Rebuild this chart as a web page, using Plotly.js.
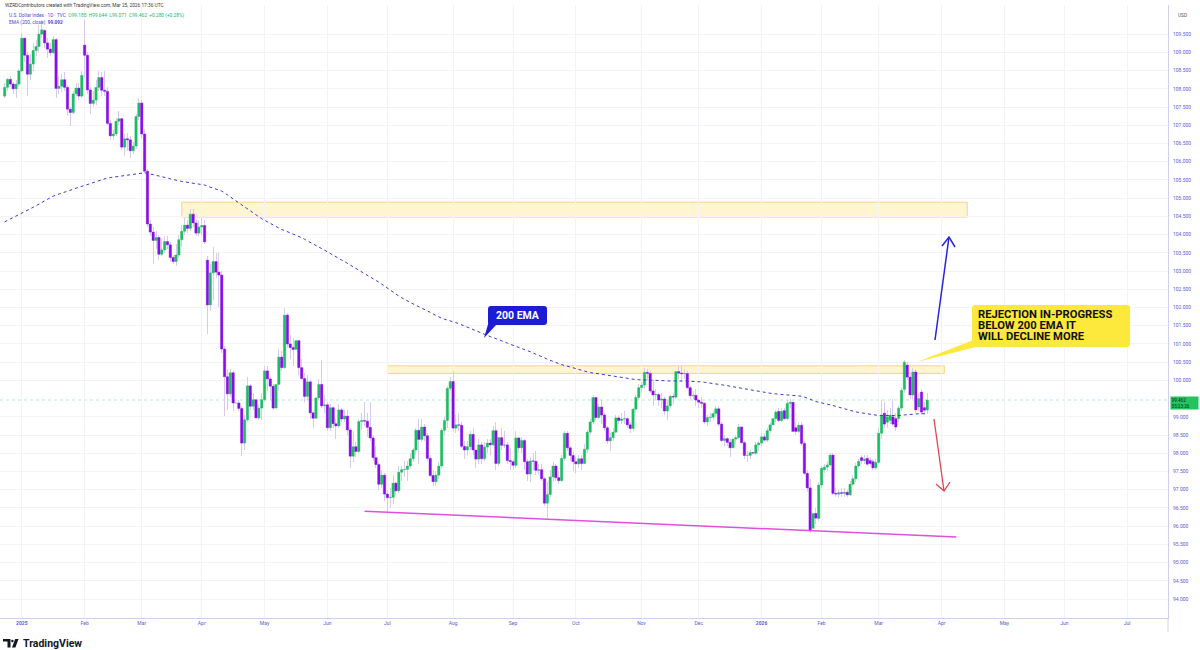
<!DOCTYPE html>
<html>
<head>
<meta charset="utf-8">
<script src="https://cdn.plot.ly/plotly-3.0.1.min.js"></script>
<style>
  html, body { margin: 0; padding: 0; background: #ffffff; }
  #chart { width: 1200px; height: 650px; }
</style>
</head>
<body>
<div id="chart"></div>
<script>
// U.S. Dollar Index, daily sessions (weekdays, market holidays skipped)
const firstSession = '2024-12-23';
const holidays = ['2024-12-25', '2025-01-01', '2025-12-25', '2026-01-01'];

const open = [
  107.80,108.04,108.26,108.13,108.00,108.13,
  108.49,109.39,108.92,108.40,108.68,109.05,109.16,109.50,109.60,109.26,109.09,108.99,109.35,108.01,108.07,108.25,108.04,107.44,107.35,107.86,108.02,107.80,
  109.20,108.92,107.97,107.60,107.69,108.04,108.31,107.96,107.93,107.05,106.71,106.76,107.11,107.18,106.40,106.63,106.60,106.30,106.43,107.24,
  107.61,106.76,105.74,104.29,104.07,103.84,103.92,103.46,103.58,103.81,103.72,103.37,103.26,103.44,103.86,104.09,104.26,104.17,104.56,104.32,104.04,
  104.21,104.25,103.30,102.07,102.95,103.26,102.97,102.89,100.86,100.10,99.63,100.21,99.38,99.38,99.23,98.28,98.92,99.85,99.29,99.47,98.97,99.24,
  99.47,100.26,100.04,99.84,99.24,99.89,100.64,100.35,101.79,101.00,100.90,100.85,101.09,100.35,100.05,99.56,99.96,99.11,98.96,99.52,99.89,99.30,
  99.33,98.70,99.25,98.81,98.75,99.19,98.94,99.02,98.64,97.92,98.18,98.05,98.87,98.90,98.88,98.71,98.42,97.88,97.69,97.15,97.40,
  96.88,96.78,96.79,97.18,96.97,97.48,97.55,97.56,97.65,97.85,98.09,98.63,98.38,98.72,98.48,97.86,97.39,97.22,97.40,97.65,98.63,98.90,99.78,
  99.97,98.69,98.78,98.77,98.19,98.09,98.18,98.52,98.09,97.84,98.23,97.85,98.17,98.28,98.23,98.62,97.72,98.43,98.22,98.23,97.80,
  97.77,97.67,98.42,98.15,98.35,97.77,97.43,97.79,97.78,97.53,97.55,97.30,96.63,96.87,97.35,97.65,97.33,97.25,97.86,98.55,98.15,97.94,
  97.77,97.71,97.85,97.72,98.11,98.58,98.86,99.53,98.98,99.27,99.05,98.70,98.34,98.43,98.58,98.97,98.90,98.94,98.95,98.78,98.68,99.21,99.53,
  99.80,99.87,100.22,100.19,99.71,99.60,99.61,99.46,99.49,99.16,99.30,99.56,99.54,100.24,100.20,100.18,100.19,99.80,99.58,99.59,
  99.46,99.40,99.37,98.86,98.98,98.99,99.09,99.22,98.80,98.35,98.40,98.30,98.15,98.39,98.43,98.72,98.29,97.94,97.94,98.02,98.00,98.23,
  98.28,98.45,98.36,98.62,98.78,98.95,99.15,98.90,99.17,98.95,99.37,99.40,98.70,98.60,98.77,98.27,97.45,97.05,95.94,96.35,96.21,
  97.13,97.55,97.62,97.68,97.95,96.90,96.88,96.92,96.90,96.93,96.86,97.15,97.30,97.65,97.88,97.80,97.86,97.80,97.77,97.60,
  97.75,98.55,99.10,98.85,98.90,99.00,98.95,98.95,99.24,99.75,100.42,100.09,99.60,100.23,99.27,99.68,99.25,99.185
];
const high = [
  108.15,108.30,108.35,108.20,108.25,108.55,
  109.54,109.40,109.00,108.95,109.25,109.35,109.75,109.90,109.65,109.40,109.25,109.45,109.40,108.35,108.40,108.45,108.10,107.50,107.95,108.15,108.15,108.50,
  109.88,109.00,108.05,107.95,108.25,108.50,108.45,108.50,108.05,107.15,106.90,107.20,107.40,107.20,106.75,106.80,106.70,106.55,107.30,107.75,
  107.70,106.90,105.80,104.40,104.20,104.10,104.00,103.90,103.95,103.95,103.80,103.45,103.75,104.00,104.25,104.45,104.40,104.70,104.70,104.40,104.40,
  104.45,104.40,103.40,103.20,103.65,103.50,103.50,103.00,100.95,100.30,100.30,100.25,99.70,99.45,99.30,99.05,100.10,99.90,99.65,99.55,99.35,99.65,
  100.40,100.40,100.10,99.90,100.05,100.85,100.80,101.98,101.85,101.25,101.15,101.20,101.10,100.60,100.20,100.15,100.00,99.15,99.65,100.05,100.55,99.60,
  99.40,99.35,99.30,98.95,99.35,99.25,99.20,99.20,98.70,98.60,98.30,98.95,99.10,99.40,99.10,99.40,98.50,98.20,97.75,97.55,97.45,
  97.00,97.05,97.40,97.20,97.65,97.65,97.80,97.80,98.00,98.15,98.70,98.95,98.95,98.80,98.55,97.95,97.55,97.50,97.75,98.70,99.00,99.85,100.10,
  100.25,99.05,99.10,98.85,98.35,98.35,98.60,98.70,98.10,98.40,98.30,98.30,98.40,98.40,98.75,98.85,98.45,98.70,98.60,98.30,98.15,
  97.85,98.60,98.45,98.45,98.40,97.85,97.90,98.00,98.05,97.70,97.70,97.35,97.20,97.55,97.75,97.70,97.50,97.95,98.60,98.60,98.20,98.05,
  97.90,97.95,97.95,98.25,98.65,98.95,99.60,99.55,99.35,99.45,99.10,98.75,98.55,98.70,99.05,99.05,99.10,99.15,99.00,98.85,99.25,99.60,99.90,
  99.95,100.35,100.30,100.25,100.00,99.75,99.65,99.65,99.55,99.45,99.60,99.65,100.25,100.40,100.40,100.30,100.25,99.85,99.70,99.75,
  99.50,99.55,99.40,99.05,99.10,99.15,99.30,99.30,98.85,98.50,98.45,98.40,98.50,98.50,98.80,98.75,98.35,98.05,98.10,98.15,98.30,98.35,
  98.55,98.55,98.70,98.85,99.05,99.20,99.25,99.25,99.25,99.45,99.50,99.45,98.85,98.85,98.85,98.35,97.55,97.30,96.45,96.50,97.20,
  97.65,97.70,97.80,98.00,98.00,97.05,97.00,97.05,97.05,97.00,97.25,97.40,97.72,97.85,97.95,97.95,97.95,97.90,97.85,97.85,
  98.70,99.45,99.40,99.20,99.25,99.50,99.10,99.30,99.80,100.55,100.50,100.20,100.35,100.30,99.65,99.75,99.40,99.644
];
const low = [
  107.75,107.95,108.05,107.85,107.75,108.05,
  108.45,108.73,107.80,108.25,108.50,108.90,109.00,109.40,109.12,108.85,108.90,108.95,107.75,107.85,107.90,107.95,107.25,106.97,107.30,107.80,107.70,107.75,
  108.30,107.85,107.30,107.50,107.55,107.95,107.80,107.80,107.00,106.60,106.60,106.70,107.00,106.33,106.15,106.30,106.10,106.20,106.35,107.15,
  106.65,105.70,104.20,103.95,103.20,103.60,103.30,103.40,103.50,103.60,103.25,103.20,103.15,103.35,103.65,104.00,104.05,104.10,104.20,103.95,103.95,
  104.00,103.75,101.26,101.90,102.20,102.80,102.00,100.75,99.01,99.20,99.55,99.15,99.25,99.15,97.92,98.10,98.85,99.20,99.20,98.80,98.90,98.90,
  99.40,99.70,99.45,99.20,99.20,99.70,100.25,100.30,100.90,100.60,100.40,100.70,100.15,100.00,99.40,99.45,98.95,98.70,98.85,99.45,99.25,99.10,
  98.60,98.60,98.70,98.40,98.70,98.85,98.85,98.50,97.60,97.75,97.90,98.00,98.65,98.75,98.45,98.35,97.80,97.60,97.00,97.05,96.70,
  96.37,96.50,96.60,96.85,96.90,97.25,97.35,97.25,97.60,97.75,97.95,97.70,98.30,98.35,97.80,97.35,97.10,97.10,97.30,97.60,98.50,98.70,99.70,
  98.60,98.55,98.60,98.15,97.85,97.95,98.10,97.95,97.60,97.70,97.70,97.80,98.00,97.95,98.20,97.55,97.65,98.10,98.15,97.70,97.55,
  97.55,97.60,98.00,98.00,97.55,97.25,97.20,97.55,97.40,97.40,97.25,96.55,96.22,96.80,97.20,97.25,97.15,97.20,97.80,98.05,97.80,97.50,
  97.45,97.60,97.55,97.70,98.00,98.50,98.80,98.90,98.95,98.80,98.60,98.25,98.05,98.35,98.55,98.80,98.80,98.80,98.70,98.55,98.60,99.10,99.45,
  99.65,99.75,100.00,99.65,99.30,99.45,99.30,99.25,99.05,98.90,99.25,99.35,99.50,100.05,99.95,100.05,99.75,99.50,99.50,99.30,
  99.25,99.25,98.80,98.75,98.85,98.90,99.00,98.75,98.30,98.20,98.20,97.90,98.10,98.25,98.40,98.25,97.85,97.75,97.85,97.90,97.95,98.05,
  98.20,98.30,98.30,98.55,98.70,98.85,98.85,98.85,98.90,98.90,99.25,98.55,98.50,98.55,98.20,97.40,96.95,95.80,95.85,96.05,96.15,
  97.05,97.45,97.50,97.65,96.85,96.80,96.78,96.80,96.80,96.80,96.82,97.10,97.20,97.60,97.70,97.70,97.65,97.65,97.55,97.55,
  97.70,98.40,98.70,98.70,98.80,98.75,98.60,98.85,99.15,99.65,100.00,99.50,99.50,99.10,99.15,99.05,99.05,99.071
];
const close = [
  108.04,108.26,108.13,108.00,108.13,108.49,
  109.39,108.92,108.40,108.68,109.05,109.16,109.50,109.62,109.26,109.09,108.99,109.35,108.01,108.07,108.25,108.04,107.44,107.35,107.86,108.02,107.80,108.37,
  108.92,107.97,107.60,107.69,108.04,108.31,107.96,107.93,107.05,106.71,106.76,107.11,107.18,106.40,106.63,106.60,106.30,106.43,107.24,107.61,
  106.76,105.74,104.29,104.07,103.84,103.92,103.46,103.58,103.81,103.72,103.37,103.26,103.44,103.86,104.09,104.26,104.17,104.56,104.32,104.04,104.21,
  104.25,103.80,102.07,102.95,103.26,102.97,102.89,100.86,100.10,99.63,100.21,99.38,99.38,99.23,98.28,98.92,99.85,99.29,99.47,98.97,99.24,99.47,
  100.26,100.04,99.84,99.24,99.89,100.64,100.35,101.79,101.00,100.90,100.85,101.09,100.35,100.05,99.56,99.96,99.11,98.96,99.52,99.89,99.30,99.33,
  98.70,99.25,98.81,98.75,99.19,98.94,99.02,98.64,97.92,98.18,98.05,98.87,98.90,98.88,98.71,98.42,97.88,97.69,97.15,97.40,96.88,
  96.78,96.79,97.18,96.97,97.48,97.55,97.56,97.65,97.85,98.09,98.63,98.38,98.72,98.48,97.86,97.39,97.22,97.40,97.65,98.63,98.90,99.78,99.97,
  98.69,98.78,98.77,98.19,98.09,98.18,98.52,98.09,97.84,98.23,97.85,98.17,98.28,98.23,98.62,97.72,98.43,98.22,98.23,97.80,97.77,
  97.67,98.42,98.15,98.35,97.77,97.43,97.79,97.78,97.53,97.55,97.30,96.63,96.87,97.35,97.65,97.33,97.25,97.86,98.55,98.15,97.94,97.77,
  97.71,97.85,97.72,98.11,98.58,98.86,99.53,98.98,99.27,99.05,98.70,98.34,98.43,98.58,98.97,98.90,98.94,98.95,98.78,98.68,99.21,99.53,99.80,
  99.87,100.22,100.19,99.71,99.60,99.61,99.46,99.49,99.16,99.30,99.56,99.54,100.24,100.20,100.18,100.19,99.80,99.58,99.59,99.46,
  99.40,99.37,98.86,98.98,98.99,99.09,99.22,98.80,98.35,98.40,98.30,98.15,98.39,98.43,98.72,98.29,97.94,97.94,98.02,98.00,98.23,98.28,
  98.45,98.36,98.62,98.78,98.95,99.13,98.90,99.15,98.95,99.37,99.40,98.60,98.60,98.77,98.27,97.45,97.05,95.88,96.35,96.22,97.13,
  97.59,97.62,97.68,97.95,96.90,96.88,96.92,96.90,96.93,96.86,97.15,97.30,97.65,97.78,97.80,97.84,97.70,97.72,97.60,97.75,
  98.55,99.05,98.80,99.00,99.05,98.80,98.72,99.24,99.73,100.50,100.09,99.60,100.23,99.19,99.50,99.13,99.182,99.462
];

// EMA(200, close): value carried in from before the first session shown
const emaLength = 200;
const emaStart = 104.35;

// Drawn levels
const supplyZone = { from: '2025-03-21', to: '2026-04-14', bottom: 104.48, top: 104.89 };
const resistanceZone = { from: '2025-07-01', to: '2026-04-02', bottom: 100.19, top: 100.40 };
const supportLine = { from: '2025-06-19 12:00', to: '2026-04-08 17:00', start: 96.41, end: 95.70 };

// Axis labels
const priceTicks = [94.0, 94.5, 95.0, 95.5, 96.0, 96.5, 97.0, 97.5, 98.0, 98.5, 99.0,
  100.0, 100.5, 101.0, 101.5, 102.0, 102.5, 103.0, 103.5, 104.0, 104.5, 105.0, 105.5,
  106.0, 106.5, 107.0, 107.5, 108.0, 108.5, 109.0, 109.5];
const monthTicks = ['2025-01-02','2025-02-03','2025-03-03','2025-04-01','2025-05-01','2025-06-02','2025-07-01',
  '2025-08-01','2025-09-01','2025-10-01','2025-11-03','2025-12-01','2026-01-02','2026-02-02','2026-03-02',
  '2026-04-01','2026-05-01','2026-06-01','2026-07-01'];
const monthLabels = ['<b>2025</b>','Feb','Mar','Apr','May','Jun','Jul','Aug','Sep','Oct','Nov','Dec',
  '<b>2026</b>','Feb','Mar','Apr','May','Jun','Jul'];

// ---- session dates (bars centred at noon so bodies never straddle a weekend break)
function sessionDates(start, count) {
  const out = [];
  const d = new Date(start + 'T12:00:00Z');
  while (out.length < count) {
    const day = d.getUTCDay();
    const iso = d.toISOString().slice(0, 10);
    if (day !== 0 && day !== 6 && holidays.indexOf(iso) === -1) out.push(iso + ' 12:00');
    d.setUTCDate(d.getUTCDate() + 1);
  }
  return out;
}
const dates = sessionDates(firstSession, close.length);

const ema = [];
close.forEach((c, i) => {
  ema.push(i === 0 ? emaStart : ema[i - 1] + (c - ema[i - 1]) * 2 / (emaLength + 1));
});

// ---- colours
const UP = '#1cbd62';
const DOWN = '#880de6';
const WICK = '#d8c9ef';
const AXIS_TEXT = '#5b5bd8';

const bodyBase = open.map((o, i) => Math.min(o, close[i]));
const bodySize = open.map((o, i) => Math.abs(close[i] - o));
const bodyColor = open.map((o, i) => close[i] >= o ? UP : DOWN);
const wickSize = high.map((h, i) => h - low[i]);

const DAY = 86400000;

// ---- pixel helpers for overlay drawings
const PLOT_W = 1168, PLOT_TOP = 5, PLOT_BOTTOM = 618;
const px = x => x / PLOT_W;
const py = y => (PLOT_BOTTOM - y) / (PLOT_BOTTOM - PLOT_TOP);
const P = (x, y) => px(x).toFixed(5) + ',' + py(y).toFixed(5);
const closedPath = pts => 'M' + pts.map(p => P(p[0], p[1])).join(' L') + ' Z';
const openPath = pts => 'M' + pts.map(p => P(p[0], p[1])).join(' L');
function roundRect(x0, y0, x1, y1, r) {
  return 'M' + P(x0 + r, y0) + ' L' + P(x1 - r, y0) + ' Q' + P(x1, y0) + ' ' + P(x1, y0 + r) +
    ' L' + P(x1, y1 - r) + ' Q' + P(x1, y1) + ' ' + P(x1 - r, y1) +
    ' L' + P(x0 + r, y1) + ' Q' + P(x0, y1) + ' ' + P(x0, y1 - r) +
    ' L' + P(x0, y0 + r) + ' Q' + P(x0, y0) + ' ' + P(x0 + r, y0) + ' Z';
}
function pshape(d, fill, line, width) {
  return { type: 'path', xref: 'paper', yref: 'paper', path: d, fillcolor: fill || 'rgba(0,0,0,0)',
    line: { color: line || 'rgba(0,0,0,0)', width: width || 0 }, layer: 'above' };
}
function note(x, y, text, size, color, extra) {
  return Object.assign({ xref: 'paper', yref: 'paper', x: px(x), y: py(y), text: text, showarrow: false,
    xanchor: 'left', yanchor: 'middle', font: { family: 'Roboto, Arial, sans-serif', size: size, color: color } }, extra || {});
}

// wicks and bodies share the bar layer, so the bodies (later trace) sit on top of the wicks
const traces = [
  { type: 'bar', x: dates, base: low, y: wickSize, width: 0.34 * DAY,
    marker: { color: WICK, line: { width: 0 } }, hoverinfo: 'skip', showlegend: false },
  { type: 'bar', x: dates, base: bodyBase, y: bodySize, width: 0.84 * DAY,
    marker: { color: bodyColor, line: { color: bodyColor, width: 0.4 } },
    hoverinfo: 'skip', showlegend: false },
  { type: 'scatter', mode: 'lines', x: dates, y: ema, line: { color: '#3a3ad6', width: 1, dash: 'dot' },
    hoverinfo: 'skip', showlegend: false }
];

const lastClose = close[close.length - 1];

const shapes = [
  { type: 'rect', xref: 'x', yref: 'y', x0: supplyZone.from + ' 12:00', x1: supplyZone.to + ' 12:00',
    y0: supplyZone.bottom, y1: supplyZone.top, fillcolor: 'rgba(255,236,170,0.55)',
    line: { color: 'rgba(244,196,110,0.75)', width: 1 }, layer: 'below' },
  { type: 'rect', xref: 'x', yref: 'y', x0: resistanceZone.from + ' 12:00', x1: resistanceZone.to + ' 12:00',
    y0: resistanceZone.bottom, y1: resistanceZone.top, fillcolor: 'rgba(255,236,170,0.55)',
    line: { color: 'rgba(244,196,110,0.75)', width: 1 }, layer: 'below' },
  { type: 'line', xref: 'x', yref: 'y', x0: supportLine.from, x1: supportLine.to,
    y0: supportLine.start, y1: supportLine.end, line: { color: '#e04fe0', width: 1.5 }, layer: 'above' },
  { type: 'line', xref: 'paper', yref: 'y', x0: 0, x1: 1, y0: lastClose, y1: lastClose,
    line: { color: 'rgba(43,194,111,0.35)', width: 1, dash: 'dot' }, layer: 'below' },
  // price-scale separator running into the time-scale row
  { type: 'line', xref: 'paper', yref: 'paper', x0: 1, x1: 1, y0: py(618), y1: py(632),
    line: { color: '#cfcff0', width: 1 } },
  // bullish path arrow
  pshape(openPath([[935, 340], [949, 237]]), null, '#2626d8', 1.5),
  pshape(openPath([[942, 246], [949, 237], [955, 247]]), null, '#2626d8', 1.5),
  // bearish path arrow
  pshape(openPath([[934, 419], [944, 491]]), null, '#e0454f', 1.3),
  pshape(openPath([[936, 484], [944, 491], [950, 482]]), null, '#e0454f', 1.3),
  // EMA callout
  pshape(closedPath([[489, 321], [497, 324], [484, 338]]), '#1c1cd4'),
  pshape(roundRect(488, 306, 547, 325, 3), '#1c1cd4'),
  // rejection callout
  pshape(closedPath([[917, 362], [976, 339], [976, 347]]), '#fde83c'),
  pshape(roundRect(972, 305, 1130, 347, 3), '#fde83c'),
  // TradingView mark
  pshape(closedPath([[3, 639], [10.5, 639], [10.5, 647.5], [7.5, 647.5], [7.5, 641.6], [3, 641.6]]), '#131722'),
  pshape(closedPath([[15.2, 639], [18.6, 639], [15.4, 647.5], [12.0, 647.5]]), '#131722'),
  { type: 'circle', xref: 'paper', yref: 'paper', x0: px(11.2), x1: px(13.6), y0: py(642.2), y1: py(639.8),
    fillcolor: '#131722', line: { width: 0 } }
];

const annotations = [
  note(3, 5.8, 'WZRDContributors created with TradingView.com, Mar 25, 2026 17:36 UTC', 4.8, '#3b3b3b'),
  note(7, 15.5, '<span style="color:#4b4bd6">U.S. Dollar Index · 1D · TVC</span>  ' +
    '<span style="color:#22b566">O99.185  H99.644  L99.071  C99.462  +0.280 (+0.28%)</span>', 4.8, '#4b4bd6'),
  note(7, 22.5, 'EMA (200, close)  <b>99.092</b>', 4.8, '#4b4bd6'),
  note(1176, 15.5, 'USD', 4.8, '#555555'),
  note(517.5, 315.5, '<b>200 EMA</b>', 10.5, '#ffffff', { xanchor: 'center' }),
  note(976, 314, '<b>REJECTION IN-PROGRESS</b>', 11.2, '#111111'),
  note(976, 325.5, '<b>BELOW 200 EMA IT</b>', 11.2, '#111111'),
  note(976, 337, '<b>WILL DECLINE MORE</b>', 11.2, '#111111'),
  note(20.5, 643.5, '<b>TradingView</b>', 10.5, '#131722'),
  { xref: 'paper', yref: 'y', x: px(1170), y: lastClose, yshift: 3.5, xanchor: 'left', yanchor: 'top',
    text: lastClose.toFixed(3) + '<br>05:23:26', showarrow: false, align: 'left',
    bgcolor: '#21c45f', borderpad: 0.6, width: 26,
    font: { family: 'Roboto, Arial, sans-serif', size: 4.6, color: '#06301a' } }
];

const layout = {
  width: 1200, height: 650,
  margin: { l: 0, r: 32, t: 5, b: 32 },
  paper_bgcolor: '#ffffff', plot_bgcolor: '#ffffff',
  showlegend: false,
  hovermode: false,
  barmode: 'overlay',
  bargap: 0,
  xaxis: {
    type: 'date',
    range: ['2024-12-19 21:00', '2026-07-21 19:00'],
    rangebreaks: [{ bounds: ['sat', 'mon'] }, { values: holidays }],
    tickmode: 'array',
    tickvals: monthTicks.map(d => d + ' 12:00'),
    ticktext: monthLabels,
    tickfont: { family: 'Roboto, Arial, sans-serif', size: 5, color: AXIS_TEXT },
    ticks: '', showgrid: true, gridcolor: '#f2f2f7', gridwidth: 1,
    showline: true, linecolor: '#cfcff0', linewidth: 1,
    zeroline: false, fixedrange: true
  },
  yaxis: {
    side: 'right',
    range: [93.48, 110.30],
    tickmode: 'array', tickvals: priceTicks, ticktext: priceTicks.map(v => v.toFixed(3)),
    tickfont: { family: 'Roboto, Arial, sans-serif', size: 5, color: AXIS_TEXT },
    ticks: '', ticklabelstandoff: 3,
    showgrid: true, gridcolor: '#f2f2f7', gridwidth: 1,
    showline: true, linecolor: '#cfcff0', linewidth: 1,
    zeroline: false, fixedrange: true
  },
  shapes: shapes,
  annotations: annotations
};

Plotly.newPlot('chart', traces, layout, { staticPlot: true, displayModeBar: false });
</script>
</body>
</html>
